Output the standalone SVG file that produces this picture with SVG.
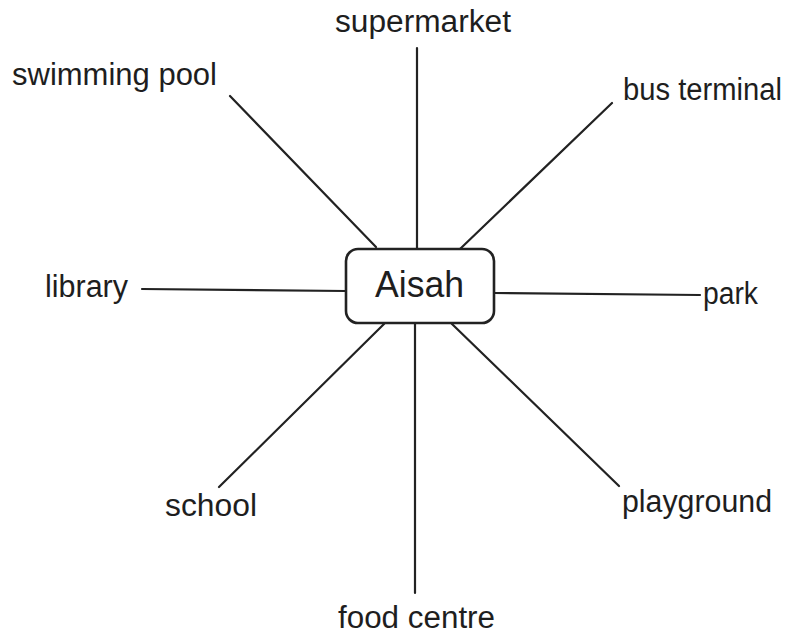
<svg xmlns="http://www.w3.org/2000/svg" width="792" height="635" viewBox="0 0 792 635">
<style>
.lbl{font-family:"Liberation Sans",Arial,sans-serif;font-size:31px;fill:#1e1e1e}
.ln{stroke:#222;stroke-width:2.2;fill:none;stroke-linecap:round}
.box{fill:#fff;stroke:#222;stroke-width:2.6}
</style>
<rect width="792" height="635" fill="#fff"/>
<g id="connectors">
<line class="ln" x1="417" y1="48" x2="417" y2="249"/>
<line class="ln" x1="230" y1="96" x2="376" y2="247"/>
<line class="ln" x1="612" y1="103" x2="460" y2="249"/>
<line class="ln" x1="142" y1="289" x2="346" y2="291"/>
<line class="ln" x1="494" y1="293" x2="700" y2="295"/>
<line class="ln" x1="384" y1="324" x2="219" y2="487"/>
<line class="ln" x1="452" y1="324" x2="619" y2="486"/>
<line class="ln" x1="415" y1="323" x2="415" y2="593"/>
</g>
<g id="aisah">
<rect class="box" x="346" y="249" width="148" height="74" rx="12"/>
<text class="lbl" x="375" y="297" textLength="89" lengthAdjust="spacingAndGlyphs" style="font-size:36px">Aisah</text>
</g>
<g id="supermarket"><text class="lbl" x="335" y="32" textLength="176" lengthAdjust="spacingAndGlyphs">supermarket</text></g>
<g id="swimming-pool"><text class="lbl" x="12" y="85" textLength="205" lengthAdjust="spacingAndGlyphs">swimming pool</text></g>
<g id="bus-terminal"><text class="lbl" x="623" y="100" textLength="159" lengthAdjust="spacingAndGlyphs">bus terminal</text></g>
<g id="library"><text class="lbl" x="45" y="297" textLength="83" lengthAdjust="spacingAndGlyphs">library</text></g>
<g id="park"><text class="lbl" x="703" y="304" textLength="55" lengthAdjust="spacingAndGlyphs">park</text></g>
<g id="school"><text class="lbl" x="165" y="516" textLength="92" lengthAdjust="spacingAndGlyphs">school</text></g>
<g id="playground"><text class="lbl" x="622" y="512" textLength="150" lengthAdjust="spacingAndGlyphs">playground</text></g>
<g id="food-centre"><text class="lbl" x="338" y="628" textLength="157" lengthAdjust="spacingAndGlyphs">food centre</text></g>
</svg>
